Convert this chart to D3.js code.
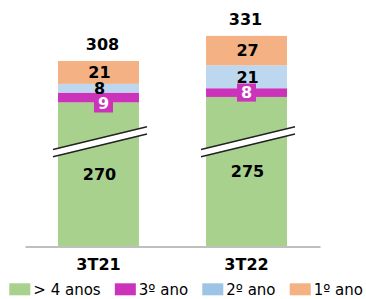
<!DOCTYPE html>
<html>
<head>
<meta charset="utf-8">
<script src="https://cdn.jsdelivr.net/npm/d3@7"></script>
<style>
body { margin: 0; background: #fff; }
text { font-family: "DejaVu Sans", sans-serif; }
</style>
</head>
<body>
<script>
// chart data
var quarters = ["3T21", "3T22"];
var seriesNames = ["> 4 anos", "3º ano", "2º ano", "1º ano"];
var over4 = [270, 275];
var year3 = [9, 8];
var year2 = [8, 21];
var year1 = [21, 27];
var totals = [308, 331];
var breakAt = 196;   // value where the axis break is drawn

var colors = ["#a9d18e", "#cc33bb", "#bdd7ee", "#f4b183"];
var legendColors = ["#a9d18e", "#cc33bb", "#9dc3e6", "#f4b183"];

var width = 366, height = 299;
var svg = d3.select("body").append("svg")
    .attr("width", width)
    .attr("height", height);

var x = d3.scaleBand().domain(quarters)
    .range([25, 320])
    .paddingInner(0.453)
    .paddingOuter(0.223);

// broken axis: the part under 270 is squeezed
var y = d3.scaleLinear()
    .domain([0, 270, 340])
    .range([246, 102.4, 26.1]);

var keys = ["over4", "year3", "year2", "year1"];
var rows = quarters.map(function(q, i) {
  return {q: q, over4: over4[i], year3: year3[i], year2: year2[i], year1: year1[i], total: totals[i]};
});
var layers = d3.stack().keys(keys)(rows);

// bars
svg.append("g").selectAll("g")
    .data(layers)
  .enter().append("g")
    .attr("fill", function(d, i) { return colors[i]; })
  .selectAll("rect")
    .data(function(d) { return d; })
  .enter().append("rect")
    .attr("x", function(d) { return x(d.data.q); })
    .attr("y", function(d) { return y(d[1]); })
    .attr("width", x.bandwidth())
    .attr("height", function(d) { return y(d[0]) - y(d[1]); });

// axis break marks
var slope = -22.5 / 93;
var brk = d3.line();
quarters.forEach(function(q) {
  var cx = x(q) + x.bandwidth() / 2 + 1.5, cy = y(breakAt);
  function seg(off) {
    return [[cx - 47, cy + off - 47 * slope], [cx + 47, cy + off + 47 * slope]];
  }
  svg.append("path").attr("d", brk(seg(0)))
      .attr("stroke", "#fff").attr("stroke-width", 6.5).attr("fill", "none");
  [-3.6, 3.6].forEach(function(o) {
    svg.append("path").attr("d", brk(seg(o)))
        .attr("stroke", "#222").attr("stroke-width", 1.4).attr("fill", "none");
  });
});

// segment labels
var boxNudge = [6, 0];
layers.forEach(function(layer, li) {
  layer.forEach(function(d, i) {
    var cx = x(d.data.q) + x.bandwidth() / 2 + 1;
    var cy = (y(d[0]) + y(d[1])) / 2;
    var v = d[1] - d[0];
    if (li === 1) {
      var by = cy + boxNudge[i];
      svg.append("rect")
          .attr("x", cx - 9.5 + (i === 0 ? 4 : -1)).attr("y", by - 9)
          .attr("width", 19).attr("height", 18)
          .attr("fill", colors[1]);
      svg.append("text")
          .attr("x", cx + (i === 0 ? 4 : -1)).attr("y", by).attr("dy", "0.36em")
          .attr("text-anchor", "middle")
          .attr("font-size", 16).attr("font-weight", "bold")
          .attr("fill", "#fff")
          .text(v);
    } else {
      svg.append("text")
          .attr("x", cx).attr("y", cy).attr("dy", "0.36em")
          .attr("text-anchor", "middle")
          .attr("font-size", 16).attr("font-weight", "bold")
          .attr("fill", "#000")
          .text(v);
    }
  });
});

// totals
svg.append("g").selectAll("text")
    .data(rows)
  .enter().append("text")
    .attr("x", function(d, i) { return x(d.q) + x.bandwidth() / 2 + (i === 0 ? 4 : -1); })
    .attr("y", function(d) { return y(d.total) - 11; })
    .attr("text-anchor", "middle")
    .attr("font-size", 16).attr("font-weight", "bold")
    .text(function(d) { return d.total; });

// x axis
var axis = svg.append("g")
    .attr("transform", "translate(0,246.5)")
    .call(d3.axisBottom(x).tickSize(0).tickPadding(12.5));
axis.select(".domain").attr("stroke", "#aaa").attr("stroke-width", 1.5);
axis.selectAll("text")
    .attr("font-size", 16).attr("font-weight", "bold")
    .attr("font-family", "DejaVu Sans, sans-serif")
    .attr("fill", "#000");

// legend
var lx = 9.3, gaps = [];
var legend = svg.append("g");
var items = seriesNames.map(function(name, i) {
  var g = legend.append("g");
  g.append("rect").attr("y", 283.3).attr("width", 21).attr("height", 12)
      .attr("fill", legendColors[i]);
  var t = g.append("text").attr("x", 24).attr("y", 294.5)
      .attr("font-size", 15).attr("fill", "#000").text(name);
  return {g: g, w: 24 + t.node().getComputedTextLength()};
});
var used = d3.sum(items, function(d) { return d.w; });
var gap = (363 - lx - used) / (items.length - 1);
items.forEach(function(it) {
  it.g.attr("transform", "translate(" + lx + ",0)");
  lx += it.w + gap;
});
</script>
</body>
</html>
